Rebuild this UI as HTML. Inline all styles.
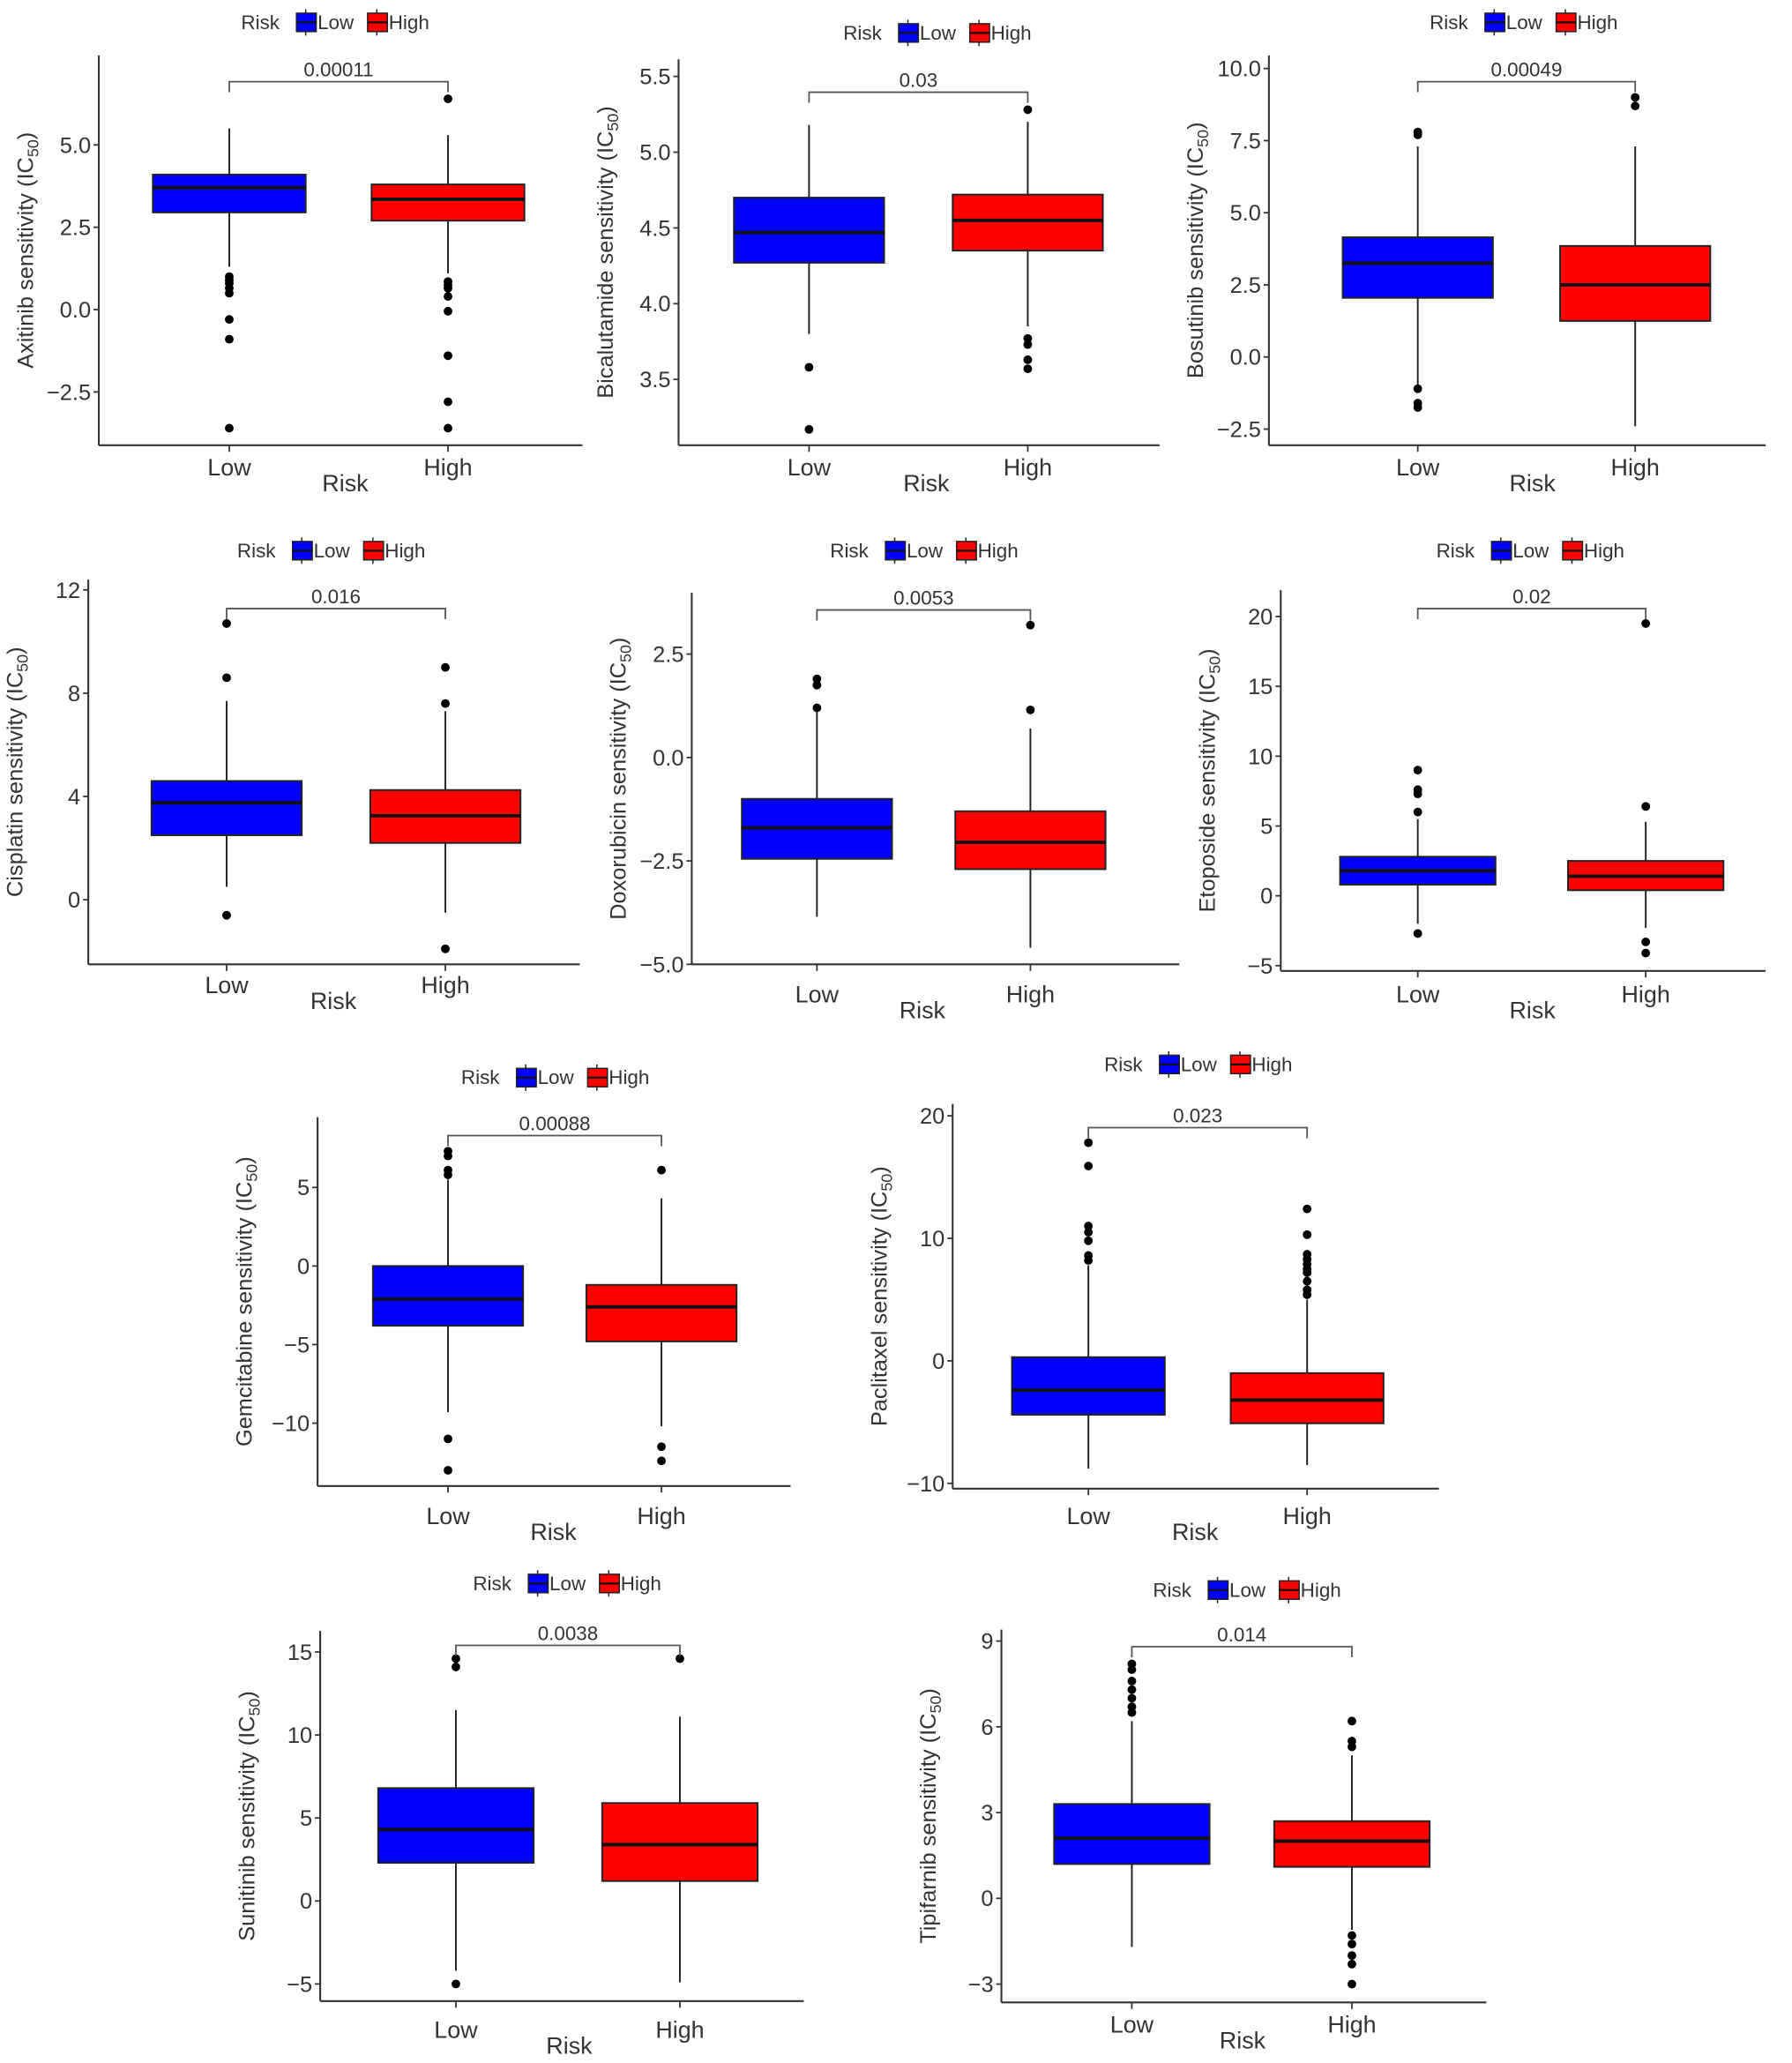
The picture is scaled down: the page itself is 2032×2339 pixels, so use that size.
<!DOCTYPE html>
<html><head><meta charset="utf-8"><style>
html,body{margin:0;padding:0;background:#fff;}
svg{display:block;font-family:"Liberation Sans",Arial,sans-serif;}
</style></head><body>
<svg id="fig" width="2032" height="2339" viewBox="0 0 1360 1566" preserveAspectRatio="none" xmlns="http://www.w3.org/2000/svg"></svg>
<script>
// ---- data ----
const drugs = ["Axitinib","Bicalutamide","Bosutinib","Cisplatin","Doxorubicin","Etoposide","Gemcitabine","Paclitaxel","Sunitinib","Tipifarnib"];
const pvals = ["0.00011","0.03","0.00049","0.016","0.0053","0.02","0.00088","0.023","0.0038","0.014"];
const categories = ["Low","High"];
// [whiskerLow, q1, median, q3, whiskerHigh]
const lowStats = [
 [1.3,2.95,3.7,4.1,5.5],[3.8,4.27,4.47,4.7,5.18],[-1.0,2.05,3.25,4.15,7.3],[0.5,2.5,3.75,4.6,7.7],[-3.85,-2.45,-1.7,-1.0,1.1],
 [-2.0,0.8,1.8,2.8,5.5],[-9.3,-3.8,-2.1,0,5.5],[-8.8,-4.4,-2.4,0.3,7.8],[-4.2,2.3,4.3,6.8,11.5],[-1.7,1.2,2.1,3.3,6.2]];
const highStats = [
 [1.1,2.7,3.35,3.8,5.3],[3.85,4.35,4.55,4.72,5.2],[-2.4,1.25,2.5,3.85,7.3],[-0.5,2.2,3.25,4.25,7.3],[-4.6,-2.7,-2.05,-1.3,0.7],
 [-2.3,0.4,1.4,2.5,5.3],[-10.2,-4.8,-2.6,-1.2,4.3],[-8.5,-5.1,-3.2,-1.0,5.0],[-4.9,1.2,3.4,5.9,11.1],[-1.1,1.1,2.0,2.7,5.0]];
const lowOutliers = [
 [1.0,0.9,0.8,0.65,0.5,-0.3,-0.9,-3.6],[3.58,3.17],[7.8,7.7,-1.1,-1.6,-1.75],[10.7,8.6,-0.6],[1.9,1.75,1.2],
 [9.0,7.6,7.3,6.0,-2.7],[7.3,7.0,6.1,5.8,-11,-13.0],[17.8,15.9,11.0,10.5,9.8,8.6,8.2],[14.6,14.1,-5.0],[8.2,8.0,7.6,7.3,7.0,6.7,6.5]];
const highOutliers = [
 [6.4,0.85,0.75,0.65,0.4,-0.05,-1.4,-2.8,-3.6],[5.28,3.77,3.73,3.63,3.57],[9.0,8.7],[9.0,7.6,-1.9],[3.2,1.15],
 [19.5,6.4,-3.3,-4.1],[6.1,-11.5,-12.4],[12.4,10.3,8.7,8.3,7.9,7.5,7.2,6.5,5.8,5.4],[14.6],[6.2,5.5,5.3,-1.3,-1.6,-2.0,-2.3,-3.0]];
const tickLabels = [
 ["5.0","2.5","0.0","\u22122.5"],["5.5","5.0","4.5","4.0","3.5"],["10.0","7.5","5.0","2.5","0.0","\u22122.5"],["12","8","4","0"],
 ["2.5","0.0","\u22122.5","\u22125.0"],["20","15","10","5","0","\u22125"],["5","0","\u22125","\u221210"],["20","10","0","\u221210"],
 ["15","10","5","0","\u22125"],["9","6","3","0","\u22123"]];
// ---- layout (pixel geometry, not data) ----
// axisX, axisBottom, axisRight, axisTop, refVal, refY, pxPerUnit, lowX, highX, halfW, bracketY, legendCX, legendY, xLabY, riskX, riskY
const layout = [
 [75,338,442,42,0,235,25,174,340,58,62,258,17,354,262,366],
 [515,338,880,45,4.5,173,115,614,780,57,70,715,25,354,703,366],
 [963,338,1340,42,0,271,21.9,1076,1241,57,62,1160,17,354,1163,366],
 [67,732,440,440,0,683,19.6,172,338,57,462,255,418,747,253,759],
 [525,732,895,450,0,575,31.4,620,782,57,463,705,418,754,700,766],
 [972,737,1340,448,0,680,10.6,1076,1249,59,462,1165,418,754,1163,766],
 [241,1128,600,848,0,961,11.93,340,502,57,862,425,818,1150,420,1162],
 [723,1130,1092,838,0,1033,9.3,826,992,58,856,913,808,1150,907,1162],
 [243,1519,610,1238,0,1443,12.6,346,516,59,1249,434,1202,1540,432,1552],
 [760,1520,1128,1237,0,1441,21.7,859,1026,59,1250,950,1207,1536,943,1548]];
const NS="http://www.w3.org/2000/svg";
const svg=document.getElementById('fig');
function mk(tag,attrs,parent){const e=document.createElementNS(NS,tag);for(const k in attrs)e.setAttribute(k,attrs[k]);(parent||svg).appendChild(e);return e;}
const colors=["#0000ff","#ff0000"];
drugs.forEach((drug,i)=>{
  const L=layout[i];
  const [ax,ab,ar,at,rv,ry,ppu,lx,hx,hw,by,lcx,ly,xly,rx,rY]=L;
  const yS=v=>ry-(v-rv)*ppu;
  const g=mk('g',{});
  
  
  // axes
  const ya=mk('line',{x1:ax,y1:at,x2:ax,y2:ab,stroke:'#333','stroke-width':1.4},g);
  
  
  const xa=mk('line',{x1:ax,y1:ab,x2:ar,y2:ab,stroke:'#333','stroke-width':1.4},g);
  
  
  // y ticks
  tickLabels[i].forEach(t=>{
    const v=parseFloat(t.replace('\u2212','-'));const y=yS(v);
    mk('line',{x1:ax-4,y1:y,x2:ax,y2:y,stroke:'#333','stroke-width':1.2},g);
    const tx=mk('text',{x:ax-6,y:y+6,'text-anchor':'end','font-size':17,fill:'#333'},g);
    tx.textContent=t;
    
    
  });
  // y title
  const yt=mk('text',{transform:`translate(${ax-50},${(at+ab)/2}) rotate(-90)`,'text-anchor':'middle','font-size':17,fill:'#333'},g);
  
  
  yt.textContent=drug+' sensitivity (IC';
  const sub=mk('tspan',{'font-size':12,dy:4},yt);sub.textContent='50';
  const cl=mk('tspan',{dy:-4},yt);cl.textContent=')';
  // boxes
  [[lowStats[i],lowOutliers[i],lx],[highStats[i],highOutliers[i],hx]].forEach((d,k)=>{
    const [s,o,cx]=d;
    mk('line',{x1:cx,y1:ab,x2:cx,y2:ab+5,stroke:'#333','stroke-width':1.2},g);
    const xl=mk('text',{x:cx,y:xly+7,'text-anchor':'middle','font-size':18,fill:'#333'},g);
    xl.textContent=categories[k];
    
    
    const w=mk('line',{x1:cx,y1:yS(s[0]),x2:cx,y2:yS(s[4]),stroke:'#222','stroke-width':1.3},g);
    
    
    const r=mk('rect',{x:cx-hw,y:yS(s[3]),width:2*hw,height:yS(s[1])-yS(s[3]),fill:colors[k],stroke:'#222','stroke-width':1.3},g);
    
    
    const m=mk('line',{x1:cx-hw,y1:yS(s[2]),x2:cx+hw,y2:yS(s[2]),stroke:'#111','stroke-width':2.6},g);
    
    
    o.forEach(v=>{
      const c=mk('circle',{cx:cx,cy:yS(v),r:3.3,fill:'#000'},g);
      
      
    });
  });
  // bracket
  const br=mk('path',{d:`M${lx},${by+8}V${by}H${hx}V${by+8}`,fill:'none',stroke:'#555','stroke-width':1.2},g);
  
  
  const pt=mk('text',{x:(lx+hx)/2,y:by-4,'text-anchor':'middle','font-size':15,fill:'#333'},g);
  pt.textContent=pvals[i];
  
  
  // x title
  const xt=mk('text',{x:rx,y:rY+7,'text-anchor':'middle','font-size':18,fill:'#333'},g);
  xt.textContent='Risk';
  
  
  // legend
  const lg=mk('g',{},g);
  
  
  const x0=lcx-75;
  const lt=mk('text',{x:x0,y:ly+5,'font-size':15,fill:'#333'},lg);lt.textContent='Risk';
  [['Low',x0+42],['High',x0+96]].forEach((e,k)=>{
    const en=mk('g',{},lg);
    
    
    mk('line',{x1:e[1]+7,y1:ly-10,x2:e[1]+7,y2:ly+10,stroke:'#222','stroke-width':1},en);
    mk('rect',{x:e[1],y:ly-7,width:15,height:14,fill:colors[k],stroke:'#222','stroke-width':1},en);
    mk('line',{x1:e[1],y1:ly,x2:e[1]+15,y2:ly,stroke:'#111','stroke-width':1.5},en);
    const t=mk('text',{x:e[1]+16,y:ly+5,'font-size':15,fill:'#333'},en);t.textContent=e[0];
  });
});
</script>
</body></html>
